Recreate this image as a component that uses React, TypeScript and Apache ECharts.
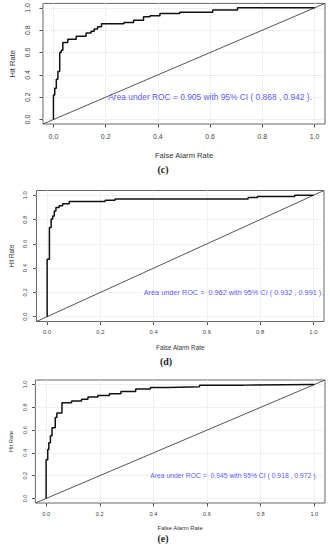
import React, { useEffect, useRef } from "react";
import * as echarts from "echarts";

// ---- data ----
const TICKS = [0, 0.2, 0.4, 0.6, 0.8, 1.0];
const X_NAME = "False Alarm Rate";
const Y_NAME = "Hit Rate";
const PANEL_LABELS = ["(c)", "(d)", "(e)"];

const FAR_C = [0, 0, 0.005, 0.011, 0.017, 0.024, 0.03, 0.036, 0.055, 0.087, 0.125, 0.144, 0.156, 0.169, 0.184, 0.27, 0.307, 0.345, 0.37, 0.408, 0.484, 0.61, 0.705, 1.0];
const HIT_C = [0, 0.22, 0.28, 0.36, 0.43, 0.6, 0.62, 0.69, 0.72, 0.745, 0.775, 0.79, 0.81, 0.83, 0.857, 0.87, 0.89, 0.92, 0.93, 0.95, 0.96, 0.98, 1.0, 1.0];

const FAR_D = [0, 0, 0.0085, 0.015, 0.021, 0.027, 0.033, 0.045, 0.058, 0.083, 0.218, 0.255, 0.755, 0.79, 0.93, 1.0];
const HIT_D = [0, 0.474, 0.735, 0.805, 0.83, 0.87, 0.9, 0.915, 0.93, 0.95, 0.96, 0.97, 0.983, 0.99, 1.0, 1.0];

const FAR_E = [0, 0, 0.006, 0.01, 0.016, 0.022, 0.034, 0.04, 0.059, 0.095, 0.132, 0.156, 0.193, 0.236, 0.279, 0.334, 0.389, 0.456, 0.572, 0.737, 1.0];
const HIT_E = [0, 0.34, 0.43, 0.49, 0.55, 0.62, 0.71, 0.75, 0.84, 0.855, 0.87, 0.89, 0.905, 0.92, 0.94, 0.96, 0.975, 0.98, 0.995, 1.0, 1.0];

const AUC_TEXT_C = "Area under ROC = 0.905 with 95% CI ( 0.868 , 0.942 ).";
const AUC_TEXT_D = "Area under ROC =  0.962 with 95% CI ( 0.932 , 0.991 ).";
const AUC_TEXT_E = "Area under ROC =  0.945 with 95% CI ( 0.918 , 0.972 ).";
const AUC_POS_C = [0.6, 0.2];
const AUC_POS_D = [0.7, 0.2];
const AUC_POS_E = [0.7, 0.2];

const DIAG = [-0.04, 1.04];

// ---- layout ----
const FONT = '"Liberation Sans", Arial, sans-serif';
const PANELS = [
  { far: FAR_C, hit: HIT_C, text: AUC_TEXT_C, pos: AUC_POS_C, left: 37, top: 3, width: 288, height: 121,
    tick: 7, name: 7.6, auc: 8.4, yMargin: 12, yGap: 27, xMargin: 9, xGap: 27, cap: [163, 169] },
  { far: FAR_D, hit: HIT_D, text: AUC_TEXT_D, pos: AUC_POS_D, left: 32, top: 190.5, width: 292, height: 131,
    tick: 5.8, name: 6.3, auc: 7.3, yMargin: 8.5, yGap: 22.5, xMargin: 7, xGap: 23, cap: [166, 361] },
  { far: FAR_E, hit: HIT_E, text: AUC_TEXT_E, pos: AUC_POS_E, left: 30, top: 380, width: 295, height: 123,
    tick: 5.6, name: 5.9, auc: 6.8, yMargin: 7.5, yGap: 21, xMargin: 7.5, xGap: 22, cap: [163, 538] },
];

export default function App() {
  const ref = useRef<HTMLDivElement>(null);
  useEffect(() => {
    if (!ref.current) return;
    const chart = echarts.init(ref.current, null, { renderer: "svg" });
    const grid: any[] = [];
    const xAxis: any[] = [];
    const yAxis: any[] = [];
    const series: any[] = [];
    const graphic: any[] = [];
    PANELS.forEach((p, i) => {
      grid.push({ left: p.left, top: p.top, width: p.width, height: p.height, show: true,
        borderColor: "#666", borderWidth: 1, backgroundColor: "transparent" });
      const common = (margin: number, name: string, gap: number, isY: boolean) => ({
        gridIndex: i, type: "value", min: DIAG[0], max: DIAG[1],
        position: isY ? "left" : "bottom",
        name, nameLocation: "middle", nameGap: gap, nameRotate: isY ? 90 : 0,
        nameTextStyle: { fontSize: p.name, color: "#333", fontFamily: FONT },
        axisLine: { show: false, onZero: false },
        axisTick: { show: true, customValues: TICKS, length: 3.5, lineStyle: { color: "#555", width: 1 } },
        axisLabel: { show: true, customValues: TICKS, margin, fontSize: p.tick, color: "#444", fontFamily: FONT,
          rotate: isY ? 90 : 0, formatter: (v: number) => v.toFixed(1) },
        splitLine: { show: false },
      });
      xAxis.push(common(p.xMargin, X_NAME, p.xGap, false));
      yAxis.push(common(p.yMargin, Y_NAME, p.yGap, true));
      const gridLines = TICKS.map((t) => ({ coords: [[t, DIAG[0]], [t, DIAG[1]]] })).concat(
        TICKS.map((t) => ({ coords: [[DIAG[0], t], [DIAG[1], t]] }))
      );
      series.push({
        type: "lines", coordinateSystem: "cartesian2d", xAxisIndex: i, yAxisIndex: i,
        data: gridLines, silent: true, z: 1, symbol: "none",
        lineStyle: { color: "#e2e2e2", type: "dotted", width: 1, opacity: 1 },
      });
      series.push({
        type: "line", xAxisIndex: i, yAxisIndex: i, data: [[DIAG[0], DIAG[0]], [DIAG[1], DIAG[1]]],
        symbol: "none", silent: true, z: 2,
        lineStyle: { color: "#555", width: 1 },
      });
      series.push({
        type: "line", xAxisIndex: i, yAxisIndex: i, step: "end",
        data: p.far.map((x, k) => [x, p.hit[k]]),
        symbol: "none", silent: true, z: 3,
        lineStyle: { color: "#111", width: 1.5 },
      });
      series.push({
        type: "scatter", xAxisIndex: i, yAxisIndex: i, data: [p.pos], symbolSize: 1, silent: true, z: 4,
        itemStyle: { color: "rgba(0,0,0,0)" },
        label: { show: true, position: "inside", formatter: p.text, color: "#2a2aff", fontSize: p.auc, fontFamily: FONT },
      });
      graphic.push({
        type: "text", x: p.cap[0], y: p.cap[1],
        style: { text: PANEL_LABELS[i], fontSize: 10, fontWeight: "bold", fontFamily: '"Liberation Serif", serif',
          fill: "#222", align: "center", verticalAlign: "middle" },
      });
    });
    chart.setOption({ animation: false, backgroundColor: "#fff", grid, xAxis, yAxis, series, graphic });
    return () => chart.dispose();
  }, []);
  return <div ref={ref} style={{ position: "absolute", left: 0, top: 0, width: 330, height: 550 }} />;
}
